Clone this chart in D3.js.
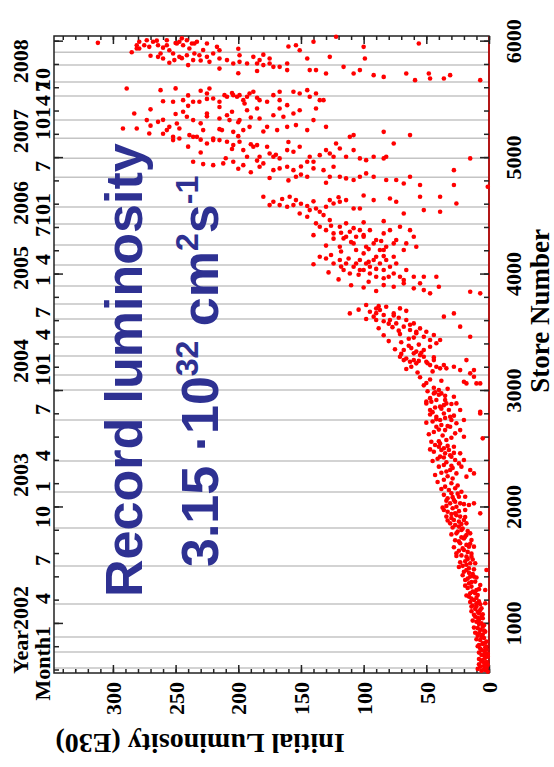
<!DOCTYPE html>
<html>
<head>
<meta charset="utf-8">
<script src="https://cdn.jsdelivr.net/npm/d3@7"></script>
<style>
  body { margin: 0; background: #fff; }
  svg { display: block; }
  .tick text, .lbl { font-family: "Liberation Serif", "Times New Roman", serif; font-weight: bold; font-size: 22px; fill: #000; }
  .title { font-family: "Liberation Serif", "Times New Roman", serif; font-weight: bold; fill: #000; }
  .record { font-family: "Liberation Sans", Arial, sans-serif; font-weight: bold; font-size: 52px; fill: #2e3192; }
</style>
</head>
<body>
<svg id="chart" width="554" height="767"></svg>
<script>
// [store number, initial luminosity (E30)]
const points2002 = [
  [854,7],[825,5],[797,2],[768,6],[740,3],[711,1],[682,5],[654,2],[625,7],[596,3],[582,1],[725,6],[811,8],[840,2],[639,1],
  [600,4],[615,2],[660,4],[670,6],[700,3],[735,1],[760,4],[780,7],[790,3],[820,5],[870,4],[890,9],[900,5],[925,3],[955,9],
  [980,4],[1010,10],[1040,5],[1070,12],[1095,9],[1125,6],[1150,13],[1185,8],[1210,14],[1240,9],[1270,13],[1300,17],
  [1369,19],[1340,16],[1312,14],[1398,12],[1283,10],[1226,16],[1197,12],[1169,10],[1111,7],[1054,11],[1026,8],[1054,6],
  [968,5],[940,7],[1255,15],[1283,3],[1455,2],[1140,10],[1326,7],[1169,3],[1140,14],[911,8],[1455,18],[1398,15],[1255,11],
  [1083,8],[997,6],[1355,11],[1380,17],[1420,13],[1440,20],[1470,16],[1490,21],[1530,19],[1545,13],[1580,22],[1610,17],
  [1640,21],[1670,18],[1700,24],[1725,20],[1755,18],[1785,25],[1810,21],[1840,27],[1870,24],[1900,30],[1925,26],[1955,33],
  [1985,29],[2005,34],[2040,27],[2070,33],[2100,36],
  [2113,30],[2084,24],[2056,28],[1998,26],[2027,23],[1970,19],[2013,16],[1970,36],[1913,34],[1855,31],[1884,28],[1827,24],
  [1798,22],[1855,18],[1769,15],[1712,14],[1655,12],[1684,23],[1626,20],[1569,18],[1512,15],[1598,26],[2027,12],[1941,7],
  [1913,23],[1741,19],[1569,14],[1512,11],[1941,27],[1884,20],[1769,26],[1655,16],[2027,31],[2084,19],
  [590,6],[605,9],[630,4],[645,8],[665,2],[690,8],[720,4],[745,8],[770,2],[800,9],[830,3],[860,10],[880,6],[915,11],
  [935,4],[960,12],[990,8],[1020,13],[1045,9],[1075,5],[1100,14],[1120,11],[1160,7],[1180,15],[1215,10],[1235,18],
  [1265,12],[1290,8],[1320,19],[1350,14],[1390,10],[1410,21],[1430,16],[1460,12],[1480,24],[1500,18],
  [1520,23],[1550,17],[1575,26],[1595,14],[1620,24],[1650,28],[1680,15],[1710,27],[1735,22],[1760,30],[1790,17],
  [1820,29],[1850,22],[1880,33],[1910,19],[1935,30],[1960,24],[1990,37],[2020,20],[2050,34],[2080,29],[2110,25]
];
const points2003 = [
  [2170,35],[2141,32],[2156,27],[2127,22],[2200,30],[2230,36],[2260,33],[2290,38],[2330,29],[2380,34],[2410,41],[2440,31],
  [2470,44],[2500,36],[2540,39],[2610,37],[2640,44],[2700,38],[2730,45],[2760,35],[2790,47],[2850,43],[2870,36],[2930,47],
  [2960,40],[2990,49],[3020,44],[3040,52],[3090,47],[3110,55],
  [2885,50],[2828,47],[2971,44],[2914,42],[3000,40],[2857,39],[2799,36],[2885,34],[2771,31],[2942,28],[2714,26],[2828,23],
  [2742,20],[2685,42],[2742,39],[2656,35],[2685,31],[2628,27],[2656,23],[2599,20],[2799,7],[2585,5],[2556,46],[2528,43],
  [2513,40],[2485,38],[2456,35],[2485,32],[2428,30],[2399,27],[2370,24],[2342,22],[2342,40],[2356,36],[2313,31],[2284,26],
  [2399,20],[2256,18],[2313,15],[2284,12],[2900,50],[2814,7],[2971,38],[2914,35],[2828,32],[2742,30],[2771,42],[2885,26],
  [2571,34],[2513,28],[2428,39],[2456,23],[3071,20],[3057,18],[3057,10],[3057,7],[3114,12],
  [2150,38],[2180,25],[2210,41],[2240,29],[2270,43],[2300,34],[2350,30],[2390,45],[2420,36],[2460,28],[2490,47],[2520,33],
  [2560,40],[2590,30],[2620,48],[2660,40],[2690,33],[2720,50],[2750,42],[2780,28],[2810,45],[2840,38],[2880,30],[2900,46],
  [2950,35],[2980,43],[3010,33],[3060,50],[3080,38]
];
const points2004 = [
  [3286,71],[3257,68],[3271,66],[3243,63],[3257,60],[3229,58],[3300,55],[3286,52],[3243,50],[3214,47],[3257,44],[3200,42],
  [3186,39],[3214,36],[3186,34],[3200,28],[3171,23],[3257,18],[3143,15],[3171,12],[3150,57],[3200,62],[3230,49],[3320,54],
  [3360,62],[3390,56],[3410,70],[3440,64],[3480,71],[3500,58],[3540,77],[3560,63],[3590,84],[3620,72],[3680,66],[3700,90],
  [3658,111],[3730,98],[3672,95],[3630,92],[3601,90],[3687,87],[3644,84],[3715,82],[3601,79],[3658,76],[3572,74],[3701,71],
  [3544,68],[3601,66],[3515,63],[3572,60],[3487,58],[3529,55],[3458,52],[3501,50],[3429,47],[3472,44],[3401,42],[3429,39],
  [3343,68],[3315,60],[3343,52],[3372,47],[3630,36],[3658,28],[3544,23],[3458,15],
  [3873,60],[3858,52],[3830,47],[3887,76],[3844,15],[3830,7],[3887,40],
  [3160,45],[3180,66],[3250,56],[3280,44],[3310,70],[3330,58],[3350,75],[3380,64],[3420,80],[3450,60],[3470,84],[3510,72],
  [3530,88],[3570,80],[3610,98],[3640,76],[3660,90],[3690,104],[3720,88],[3850,90],[3880,100]
];
const points2005 = [
  [3901,84],[3916,68],
  [4330,140],[4431,138],[4402,135],[4373,130],[4459,127],[4345,124],[4402,119],[4302,116],[4431,114],[4359,111],[4259,108],
  [4316,106],[4373,103],[4316,100],[4230,98],[4373,95],[4259,92],[4288,90],[4202,87],[4345,84],[4230,82],[4373,79],[4144,76],
  [4288,74],[4402,71],[4202,68],[4259,66],[4373,63],[4316,60],[4230,58],[4144,135],[4130,130],[4087,124],[4116,119],[4030,116],
  [4087,114],[4001,111],[4059,108],[4087,106],[4116,103],[4030,100],[4087,98],[4059,95],[4116,92],[3973,90],[4087,87],[4030,84],
  [4116,82],[4059,79],[4001,76],[4087,74],[3973,71],[3944,68],[4030,66],[3973,60],[3916,55],[3973,52],[3973,42],[4202,106],
  [4173,100],[4144,90],[4202,84],[4259,76],[4001,95],[3973,80],[4230,119],[4316,114],[4030,103],
  [4516,151],[4488,145],[4545,143],[4559,138],[4531,135],[4502,132],[4559,108],[4559,103],[4516,68],[4545,52],[4531,39],
  [3900,110],[3930,96],[3950,120],[3960,84],[3990,104],[4010,128],[4040,90],[4060,118],[4080,140],[4100,96],[4130,112],
  [4150,84],[4160,126],[4190,118],[4210,96],[4240,130],[4270,110],[4280,86],[4300,124],[4330,100],[4350,118],[4390,108],
  [4410,126],[4440,100],[4450,84]
];
const points2006 = [
  [4660,180],[4588,175],[4617,172],[4588,167],[4574,161],[4660,159],[4588,156],[4631,154],[4574,130],[4631,127],[4602,124],
  [4617,119],[4631,114],[4631,92],[4645,79],[4617,74],[4660,55],[4660,39],[4602,26],
  [4580,145],[4600,150],[4620,140],[4640,165],[4655,120],[4670,100],
  [4960,236],[4931,220],[4946,212],[4960,204],[4931,196],[4917,183],[4946,180],[4888,172],[4903,167],[4917,161],[4888,156],
  [4831,154],[4831,145],[4903,140],[4888,132],[4831,127],[4917,124],[4831,119],[4817,114],[4803,108],[4831,103],[4860,98],
  [4831,92],[4803,82],[4803,74],[4774,68],[4831,63],[4760,55],[4760,28],
  [5146,252],[5160,247],[5174,236],[5117,225],[5160,220],[5146,215],[5132,209],[5103,204],[5132,199],[5060,196],[5003,193],
  [5089,188],[5103,185],[5003,183],[5089,177],[5031,175],[5003,172],[4989,167],[5060,161],[5046,156],[5089,151],[4960,145],
  [5003,143],[4960,140],[5017,135],[5060,130],[5031,127],[5003,124],[5074,119],[5003,114],[5060,108],[4989,103],[4974,98],
  [5003,92],[4989,84],[5003,82],[4888,28],[4989,15],[4745,1],
  [5246,292],[5246,281],[5203,271],[5232,257],[5174,252],[5246,247],[5189,239],[5174,233],[5232,228],[5146,220],[5232,213],
  [5217,204],[5232,196],[5232,169],[5232,145],[5117,122],[5174,111],[5189,108],[5217,84],[5117,76],[5189,63],
  [4780,130],[4800,160],[4820,175],[4850,150],[4870,190],[4900,200],[4920,150],[4940,228],[4970,185],[4990,210],[5020,170],
  [5040,230],[5070,205],[5090,240],[5110,190],[5130,160],[5150,230],[5180,200],[5200,260],[5220,180],[5240,215]
];
const points2007 = [
  [5375,283],[5318,273],[5303,264],[5260,255],[5289,249],[5389,244],[5346,241],[5318,236],[5375,225],[5332,215],[5360,209],
  [5318,207],[5318,199],[5403,193],[5260,191],[5418,185],[5332,183],[5260,177],[5360,172],[5418,167],[5346,164],[5260,161],
  [5375,156],[5275,154],[5403,151],[5318,140],[5418,138],[5260,130],
  [5475,252],[5489,244],[5475,236],[5475,231],[5546,225],[5589,223],[5503,220],[5475,215],[5532,211],[5518,209],[5532,204],
  [5518,201],[5532,199],[5489,196],[5518,193],[5546,191],[5561,188],[5489,183],[5475,177],[5532,172],[5561,167],[5489,167],
  [5446,161],[5561,156],[5546,151],[5575,145],[5518,143],[5546,138],[5489,135],[5489,132],[5589,289],[5575,262],
  [5270,270],[5290,230],[5300,200],[5320,260],[5340,190],[5350,225],[5370,250],[5390,205],[5410,270],[5430,215],[5440,240],
  [5460,195],[5480,260],[5500,225],[5510,185],[5530,240],[5550,205],[5570,230],[5590,250],
  [5981,312],[5961,281],[5933,279],[6004,273],[5990,268],[5961,264],[6004,257],[5961,257],[5890,252],[5976,249],[5990,247],
  [5961,244],[6004,241],[5976,237],[5976,235],[5990,233],[5933,281],[5861,264],[5847,260],[5833,251],[5875,241],[5833,236],
  [5875,231],[5861,225],[5818,223],[5890,220],[5847,215],[5833,209],[5804,204],[5875,199],[5804,193],[5861,188],[5833,183],
  [5790,180],[5804,175],[5775,172],[5775,167],[5747,161],[5961,154],[5918,151],[5847,145],[5747,143],[5747,138],[5718,130],
  [5861,127],[6033,122],[5775,116],[5718,108],[5947,100],[5847,99],[5747,103],[5704,92],[5689,84],[5718,66],[5661,59],
  [5976,56],[5718,48],[5675,47],[5675,36],[5704,31],[5661,7],[5990,279],[5947,271],[5918,255],[5933,239],[5976,225],
  [5947,217],[5890,262],[5861,247],[5918,215],[5818,199],[5804,185],[5847,175],[5804,161],
  [5720,200],[5740,185],[5760,215],[5790,240],[5810,255],[5830,230],[5850,245],[5870,270],[5890,235],[5900,285],[5920,228],
  [5940,260],[5960,275],[5980,250],[6000,265],[6020,245],[5930,200],[5880,180],[5950,160],[5990,140]
];

const lumTicks = [0, 50, 100, 150, 200, 250, 300];
const storeTicks = [1000, 2000, 3000, 4000, 5000, 6000];
// month boundaries (grey lines) and date labels, as store numbers
const gridStores = [614, 751, 880, 1163, 1489, 1815, 2124, 2391, 2742, 3000, 3129, 3292, 3455, 3609, 3738, 3893,
  4073, 4245, 4425, 4571, 4828, 4991, 5163, 5318, 5524, 5644, 5790, 5901];
const monthLabels = ['1','4','7','10','1','4','7','10','1','4','7','1','4','7','10','1','7','10','1','4','7','10'];
const monthStores = [880, 1163, 1489, 1815, 2124, 2391, 2786, 3035, 3223, 3430, 3618, 3893, 4073, 4313, 4408, 4597,
  4872, 5147, 5336, 5439, 5559, 5576];
const yearLabels = ['2002','2003','2004','2005','2006','2007','2008'];
const yearStores = [940, 2082, 3060, 3858, 4416, 5034, 5635];

const plot = { left: 54, right: 489, top: 36, bottom: 673 };
const svg = d3.select('#chart');
svg.append('rect').attr('width', 554).attr('height', 767).attr('fill', '#fff');

const x = d3.scaleLinear().domain([0, 347]).range([plot.right, plot.left]);
const y = d3.scaleLinear().domain([570, 6040]).range([plot.bottom, plot.top]);

// grid
svg.append('g').selectAll('line').data(gridStores).join('line')
  .attr('x1', plot.left).attr('x2', plot.right)
  .attr('y1', d => y(d)).attr('y2', d => y(d))
  .attr('stroke', '#c4c4c4').attr('stroke-width', 1.5);

// frame
svg.append('rect')
  .attr('x', plot.left).attr('y', plot.top)
  .attr('width', plot.right - plot.left).attr('height', plot.bottom - plot.top)
  .attr('fill', 'none').attr('stroke', '#222').attr('stroke-width', 1.5);
svg.append('line')
  .attr('x1', plot.right).attr('x2', plot.right).attr('y1', plot.top).attr('y2', plot.bottom)
  .attr('stroke', '#d00000').attr('stroke-width', 1.5);

function addAxis(axis, tx, ty) {
  const g = svg.append('g').attr('transform', `translate(${tx},${ty})`).call(axis);
  g.select('.domain').remove();
  g.selectAll('.tick line').attr('stroke', '#222').attr('stroke-width', 1.5);
  return g;
}

const lumMinor = d3.range(0, 347, 10);
const storeMinor = d3.range(600, 6040, 200);

// luminosity axis (bottom) + mirrored ticks (top)
addAxis(d3.axisBottom(x).tickValues(lumMinor).tickSizeInner(-4).tickSizeOuter(0).tickFormat(''), 0, plot.bottom);
addAxis(d3.axisTop(x).tickValues(lumMinor).tickSizeInner(-4).tickSizeOuter(0).tickFormat(''), 0, plot.top);
addAxis(d3.axisTop(x).tickValues(lumTicks).tickSizeInner(-8).tickSizeOuter(0).tickFormat(''), 0, plot.top);
const gLum = addAxis(d3.axisBottom(x).tickValues(lumTicks).tickSizeInner(-8).tickSizeOuter(0).tickFormat(d3.format('d')), 0, plot.bottom);
gLum.selectAll('.tick text')
  .attr('transform', 'rotate(-90)')
  .attr('x', -9).attr('y', 0).attr('dy', '0.35em')
  .attr('text-anchor', 'end');

// store number axis (right) + mirrored ticks (left)
addAxis(d3.axisRight(y).tickValues(storeMinor).tickSizeInner(-5).tickSizeOuter(0).tickFormat(''), plot.right, 0);
addAxis(d3.axisLeft(y).tickValues(storeMinor).tickSizeInner(-5).tickSizeOuter(0).tickFormat(''), plot.left, 0);
addAxis(d3.axisLeft(y).tickValues(storeTicks).tickSizeInner(-9).tickSizeOuter(0).tickFormat(''), plot.left, 0);
const gStore = addAxis(d3.axisRight(y).tickValues(storeTicks).tickSizeInner(-9).tickSizeOuter(0).tickFormat(d3.format('d')), plot.right, 0);
gStore.selectAll('.tick text')
  .attr('transform', 'translate(32,0) rotate(-90)')
  .attr('x', 0).attr('dy', 0)
  .attr('text-anchor', 'middle');

// date labels on the left
const dates = svg.append('g');
dates.selectAll('text.month').data(monthStores).join('text')
  .attr('class', 'lbl month')
  .attr('transform', d => `translate(50,${y(d)}) rotate(-90)`)
  .attr('text-anchor', 'start')
  .text((d, i) => monthLabels[i]);
dates.selectAll('text.year').data(yearStores).join('text')
  .attr('class', 'lbl year')
  .attr('transform', d => `translate(28,${y(d)}) rotate(-90)`)
  .attr('text-anchor', 'start')
  .text((d, i) => yearLabels[i]);
dates.append('text').attr('class', 'lbl')
  .attr('transform', `translate(50,${y(monthStores[0])}) rotate(-90)`)
  .attr('text-anchor', 'end').text('Month');
dates.append('text').attr('class', 'lbl')
  .attr('transform', `translate(28,${y(yearStores[0])}) rotate(-90)`)
  .attr('text-anchor', 'end').text('Year');

// axis titles
svg.append('text').attr('class', 'title')
  .attr('transform', 'translate(549,311) rotate(-90)')
  .attr('text-anchor', 'middle').attr('font-size', 27)
  .text('Store Number');
svg.append('text').attr('class', 'title')
  .attr('transform', 'translate(200,734) rotate(180)')
  .attr('text-anchor', 'middle').attr('font-size', 28)
  .text('Initial Luminosity (E30)');

// record annotation
svg.append('text').attr('class', 'record')
  .attr('transform', 'translate(142,597) rotate(-90)')
  .text('Record luminosity');
const rec = svg.append('text').attr('class', 'record')
  .attr('transform', 'translate(218,567) rotate(-90)');
rec.append('tspan').text('3.15 \u00b710');
rec.append('tspan').attr('font-size', 32).attr('dy', -20).text('32');
rec.append('tspan').attr('dy', 20).text(' cm');
rec.append('tspan').attr('font-size', 32).attr('dy', -20).text('2');
rec.append('tspan').attr('dy', 20).text('s');
rec.append('tspan').attr('font-size', 32).attr('dy', -20).text('-1');

// data points
const allPoints = [].concat(points2002, points2003, points2004, points2005, points2006, points2007);
svg.append('g').selectAll('circle').data(allPoints).join('circle')
  .attr('cx', d => x(d[1]))
  .attr('cy', d => y(d[0]))
  .attr('r', 2.3)
  .attr('fill', '#ff0000');
</script>
</body>
</html>
